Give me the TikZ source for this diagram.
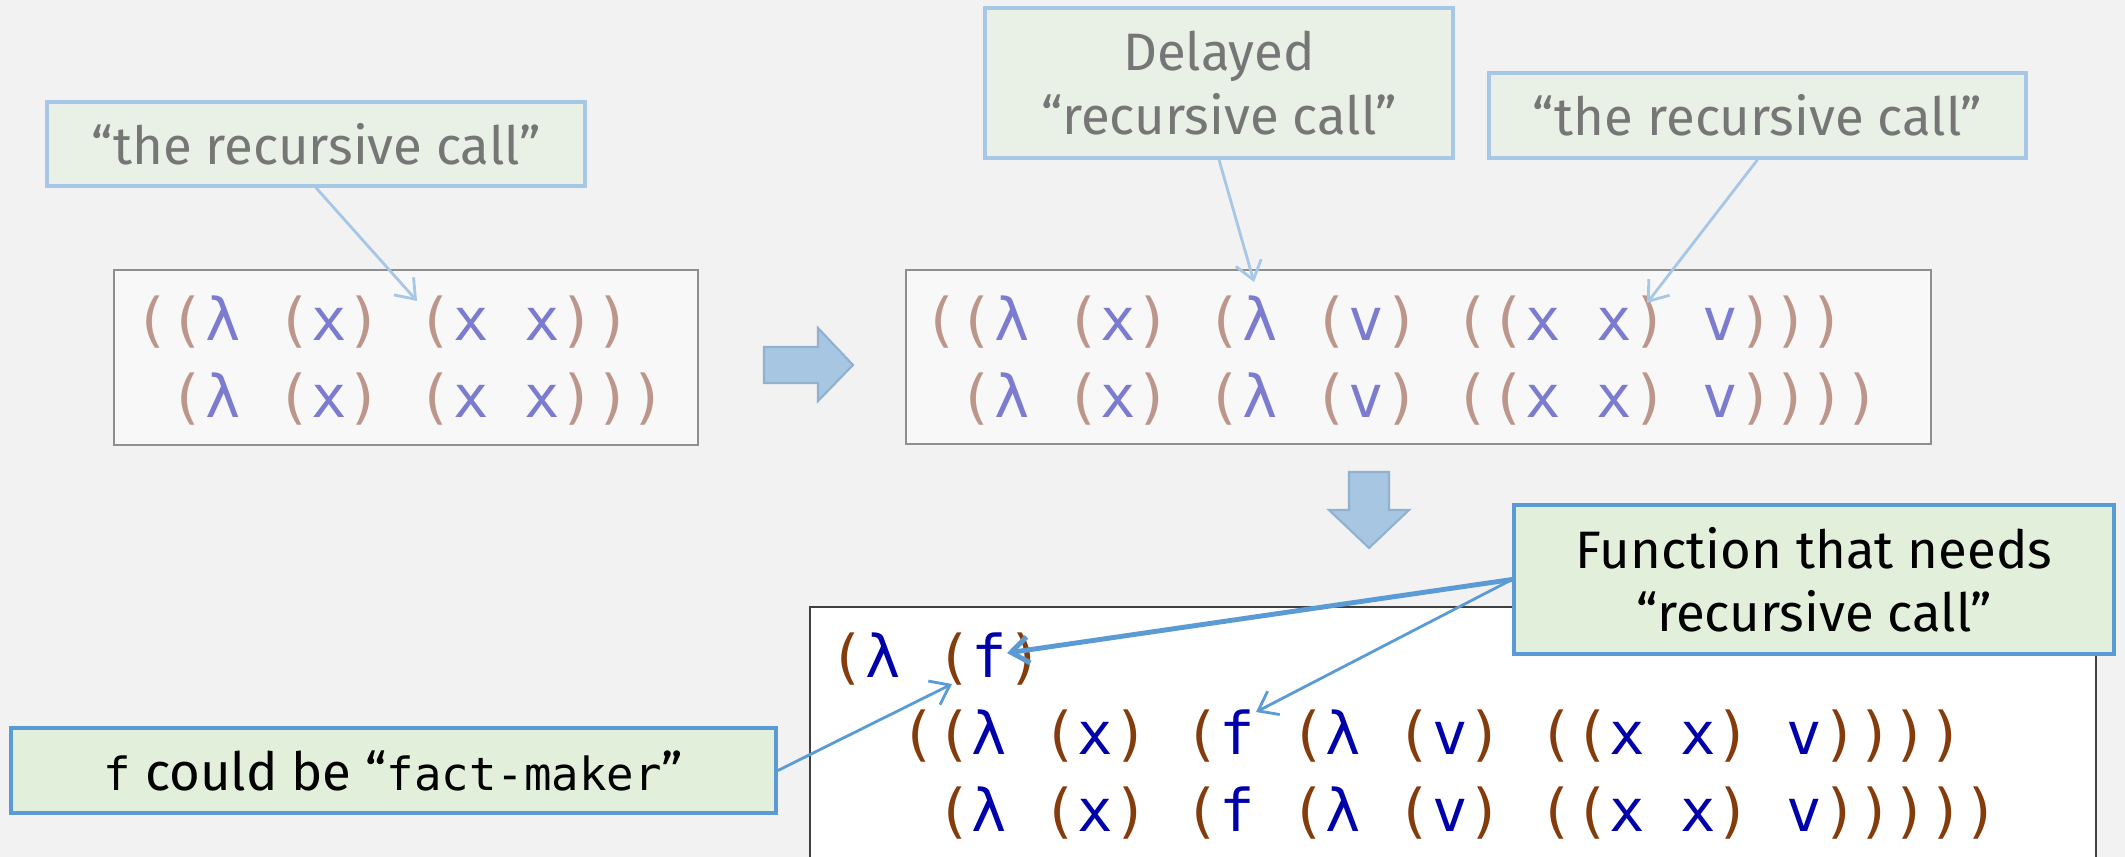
\documentclass[tikz,border=0pt]{standalone}
\usepackage{fontspec}
\setmainfont{Fira Sans}
\newfontfamily\codefont{DejaVu Sans Mono}
\usetikzlibrary{arrows.meta}
\definecolor{bg}{HTML}{F2F2F2}
\definecolor{LblFill}{HTML}{E9F0E6}
\definecolor{LblBorder}{HTML}{A6C7E5}
\definecolor{LblText}{HTML}{767676}
\definecolor{Lbl2Fill}{HTML}{E2EFDA}
\definecolor{Blu}{HTML}{5B9BD5}
\definecolor{CodeBg}{HTML}{F8F8F8}
\definecolor{CodeBorder}{HTML}{8F8F8F}
\definecolor{ParFade}{HTML}{BC968A}
\definecolor{LetFade}{HTML}{7B7BCF}
\definecolor{ParDark}{HTML}{843C0C}
\definecolor{LetDark}{HTML}{0000AA}
\definecolor{BlockFill}{HTML}{A6C6E2}
\definecolor{BlockBorder}{HTML}{90B1D0}
\newcommand\pf[1]{\textcolor{ParFade}{#1}}
\newcommand\pb[1]{\textcolor{ParDark}{#1}}
\newcommand\mono[1]{{\codefont\fontsize{26}{30}\selectfont #1}}
\tikzset{
  toplbl/.style={draw=LblBorder, fill=LblFill, line width=2pt, text=LblText, inner sep=0pt,
    align=center, font=\fontsize{30}{36.4}\selectfont},
  botlbl/.style={draw=Blu, fill=Lbl2Fill, line width=2.2pt, text=black, inner sep=0pt,
    align=center, font=\fontsize{30}{36}\selectfont},
  codebox/.style={draw=CodeBorder, fill=CodeBg, line width=1.1pt, inner sep=0pt},
  codefade/.style={anchor=base west, inner sep=0pt, text=LetFade, font=\codefont\fontsize{33.5}{40}\selectfont},
  codedark/.style={anchor=base west, inner sep=0pt, text=LetDark, font=\codefont\fontsize{33.5}{40}\selectfont},
  lightarr/.style={draw=LblBorder, line width=1.6pt, -{Straight Barb[length=10pt,width=15pt]}},
  bluarr/.style={draw=Blu, line width=1.6pt, -{Straight Barb[length=10pt,width=15pt]}},
  blockarr/.style={fill=BlockFill, draw=BlockBorder, line width=1.2pt, line join=miter}
}
\begin{document}
\begin{tikzpicture}[x=0.02cm, y=-0.02cm]
\useasboundingbox[fill=bg] (0,0) rectangle (2125,857);

% top-left code box
\node[codebox, minimum width=584*0.02cm, minimum height=175*0.02cm] (code1) at (406,357.5) {};
\node[codefade] (c1a) at (134,341) {\pf{((}λ \pf{(}x\pf{)} \pf{(}x x\pf{))}};
\node[codefade] (c1b) at (134,418) {\phantom{(}\pf{(}λ \pf{(}x\pf{)} \pf{(}x x\pf{)))}};

% top-right code box
\node[codebox, minimum width=1025*0.02cm, minimum height=174*0.02cm] (code2) at (1418.5,357) {};
\node[codefade] (c2a) at (923,341) {\pf{((}λ \pf{(}x\pf{)} \pf{(}λ \pf{(}v\pf{)} \pf{((}x x\pf{)} v\pf{)))}};
\node[codefade] (c2b) at (923,418) {\phantom{(}\pf{(}λ \pf{(}x\pf{)} \pf{(}λ \pf{(}v\pf{)} \pf{((}x x\pf{)} v\pf{))))}};

% bottom code box
\node[draw=black!75, fill=white, line width=1.1pt, inner sep=0pt,
  minimum width=1286*0.02cm, minimum height=400*0.02cm] (code3) at (1453,807) {};
\node[codedark] (c3a) at (829.5,677) {\pb{(}λ \pb{(}f\pb{)}};
\node[codedark] (c3b) at (829.5,754) {\phantom{((}\pb{((}λ \pb{(}x\pb{)} \pb{(}f \pb{(}λ \pb{(}v\pb{)} \pb{((}x x\pb{)} v\pb{))))}};
\node[codedark] (c3c) at (829.5,831) {\phantom{(((}\pb{(}λ \pb{(}x\pb{)} \pb{(}f \pb{(}λ \pb{(}v\pb{)} \pb{((}x x\pb{)} v\pb{)))))}};

% labels
\node[toplbl, minimum width=538*0.02cm, minimum height=84*0.02cm] (la) at (316,144) {“the recursive call”};
\node[toplbl, minimum width=468*0.02cm, minimum height=150*0.02cm] (lb) at (1219,83) {Delayed\\“recursive call”};
\node[toplbl, minimum width=537*0.02cm, minimum height=85*0.02cm] (lc) at (1757.5,115.5) {“the recursive call”};
\node[botlbl, minimum width=600*0.02cm, minimum height=149*0.02cm] (ld) at (1814,579.5) {Function that needs\\“recursive call”};
\node[botlbl, minimum width=765*0.02cm, minimum height=85*0.02cm] (le) at (393.5,770.5) {\mono{f} could be “\mono{fact-maker}”};

% block arrows
\path[blockarr] (764,347) -- (818,347) -- (818,328) -- (853,365) -- (818,401) -- (818,383) -- (764,383) -- cycle;
\path[blockarr] (1349,472) -- (1389,472) -- (1389,510) -- (1409,510) -- (1369,548) -- (1329,510) -- (1349,510) -- cycle;

% arrow targets
\coordinate (ta) at (417,301);
\coordinate (tb) at (1254,282);
\coordinate (tc) at (1647,303);
\coordinate (td1) at (1007,653);
\coordinate (td2) at (1256,712);
\coordinate (te) at (952,684);

\draw[lightarr] (la.south) -- (ta);
\draw[lightarr] (lb.south) -- (tb);
\draw[lightarr] (lc.south) -- (tc);
\draw[bluarr, line width=2.8pt] (ld.west) -- (td1);
\draw[bluarr] (ld.west) -- (td2);
\draw[bluarr] (le.east) -- (te);
\end{tikzpicture}
\end{document}
